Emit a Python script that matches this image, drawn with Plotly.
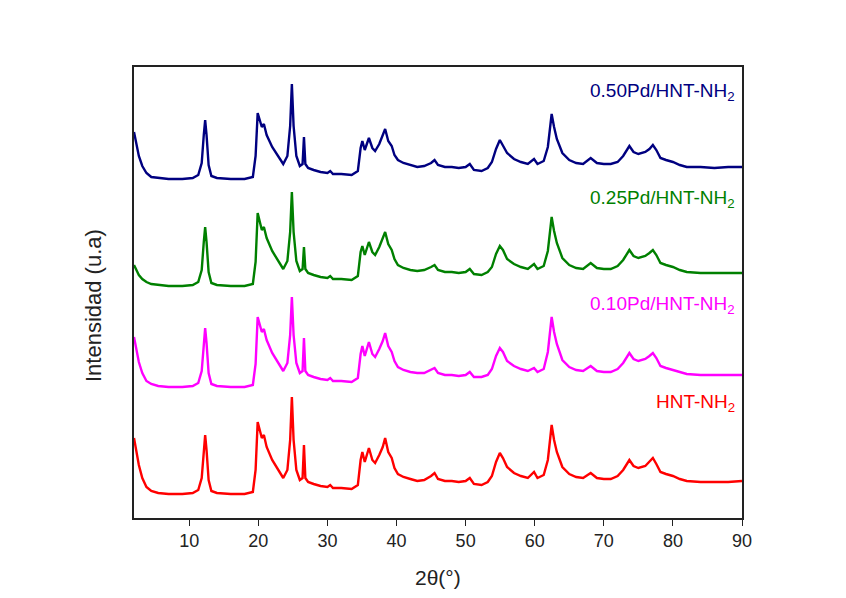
import plotly.graph_objects as go

# 2-theta grid (degrees)
two_theta = [2.0, 2.3, 2.7, 3.2, 3.8, 4.5, 5.5, 7.0, 9.0, 10.5,
             11.3, 11.8, 12.1, 12.3, 12.5, 12.8, 13.2, 14.0, 16.0, 18.0,
             19.2, 19.6, 19.9, 20.2, 20.5, 20.8, 21.2, 22.0, 23.0, 23.6,
             24.2, 24.6, 24.85, 25.1, 25.5, 26.0, 26.4, 26.6, 26.8, 27.2,
             28.0, 29.0, 30.0, 30.4, 30.8, 32.0, 33.5, 34.4, 34.8, 35.05,
             35.4, 36.0, 36.5, 36.9, 37.5, 38.0, 38.35, 38.8, 39.3, 39.7,
             40.2, 41.0, 42.0, 43.0, 44.0, 45.0, 45.5, 46.0, 47.0, 48.0,
             49.0, 50.0, 50.6, 51.2, 52.3, 53.2, 53.8, 54.4, 54.95, 55.4,
             56.0, 57.0, 58.0, 59.0, 59.9, 60.4, 61.3, 61.9, 62.45, 62.8,
             63.2, 64.0, 65.0, 66.0, 67.0, 68.1, 69.0, 70.0, 71.0, 72.0,
             72.8, 73.7, 74.3, 75.0, 76.0, 76.6, 77.1, 77.6, 78.2, 79.0,
             80.0, 81.0, 82.0, 84.0, 86.0, 88.0, 90.0]

hnt_nh2 = [80, 68, 53, 40, 31, 27, 25, 24, 24, 25,
           28, 40, 68, 83, 68, 38, 27, 25, 24, 24,
           26, 48, 96, 88, 80, 83, 71, 58, 46, 40,
           48, 78, 121, 78, 48, 38, 40, 73, 40, 36,
           34, 32, 31, 33, 30, 30, 29, 33, 58, 66,
           56, 70, 58, 55, 63, 71, 80, 66, 60, 50,
           44, 41, 39, 37, 38, 42, 45, 39, 37, 37,
           36, 37, 40, 34, 33, 36, 42, 56, 65, 60,
           51, 45, 42, 40, 46, 40, 43, 58, 93, 78,
           66, 51, 44, 41, 40, 45, 40, 39, 39, 42,
           48, 58, 52, 50, 52, 56, 60, 54, 46, 44,
           42, 39, 37, 36, 36, 36, 37]

pd010 = [181, 170, 156, 145, 137, 134, 132, 131, 131, 132,
         135, 147, 175, 190, 175, 145, 134, 132, 131, 131,
         133, 154, 201, 194, 186, 189, 178, 165, 153, 147,
         155, 183, 221, 183, 155, 145, 147, 180, 147, 143,
         141, 139, 138, 140, 137, 137, 136, 140, 164, 172,
         162, 176, 164, 161, 169, 177, 185, 172, 166, 157,
         151, 148, 146, 145, 145, 148, 150, 145, 143, 143,
         142, 143, 146, 141, 141, 143, 149, 162, 170, 166,
         157, 152, 149, 147, 150, 146, 149, 166, 201, 186,
         174, 158, 151, 148, 147, 152, 147, 146, 146, 149,
         155, 165, 159, 157, 159, 162, 165, 160, 152, 150,
         148, 146, 144, 143, 143, 143, 143]

pd025 = [253, 248, 243, 239, 236, 234, 233, 232, 232, 233,
         236, 248, 276, 291, 276, 246, 235, 233, 232, 232,
         234, 256, 305, 297, 288, 291, 280, 267, 255, 249,
         257, 286, 326, 286, 257, 247, 249, 271, 249, 245,
         243, 241, 240, 242, 239, 239, 238, 242, 266, 272,
         263, 276, 266, 263, 271, 279, 286, 274, 268, 259,
         253, 250, 248, 247, 248, 251, 253, 248, 246, 246,
         245, 246, 249, 244, 243, 246, 251, 264, 272, 268,
         259, 254, 251, 249, 254, 249, 252, 267, 301, 287,
         275, 260, 253, 250, 249, 255, 250, 249, 249, 252,
         258, 268, 262, 260, 262, 265, 268, 263, 255, 253,
         251, 248, 246, 245, 245, 245, 245]

pd050 = [386, 375, 362, 352, 345, 341, 340, 339, 339, 340,
         343, 355, 383, 398, 383, 353, 342, 340, 339, 339,
         341, 362, 405, 398, 391, 394, 383, 371, 360, 354,
         362, 392, 434, 392, 362, 352, 354, 381, 354, 350,
         348, 346, 345, 347, 344, 344, 343, 347, 370, 377,
         368, 380, 370, 367, 374, 382, 389, 377, 372, 363,
         358, 355, 353, 351, 352, 355, 358, 353, 351, 351,
         350, 351, 354, 348, 347, 350, 356, 369, 378, 373,
         365, 359, 356, 354, 359, 354, 357, 371, 404, 391,
         379, 365, 358, 355, 354, 360, 355, 354, 354, 356,
         362, 372, 366, 364, 366, 369, 373, 368, 360, 358,
         356, 353, 351, 351, 350, 351, 351]

series_names = ["HNT-NH<sub>2</sub>", "0.10Pd/HNT-NH<sub>2</sub>",
                "0.25Pd/HNT-NH<sub>2</sub>", "0.50Pd/HNT-NH<sub>2</sub>"]
series_values = [hnt_nh2, pd010, pd025, pd050]
colors = ["#FF0000", "#FF00FF", "#008000", "#000080"]
label_y = [0.255, 0.4723, 0.7073, 0.9446]

FONT = "Arial, 'Liberation Sans', sans-serif"

fig = go.Figure()
for name, vals, col in zip(series_names, series_values, colors):
    fig.add_trace(go.Scatter(x=two_theta, y=vals, mode="lines", name=name,
                             line=dict(color=col, width=2.4), showlegend=False))

for name, col, yy in zip(series_names, colors, label_y):
    fig.add_annotation(text=name, x=0.9918, y=yy, xref="paper", yref="paper",
                       xanchor="right", yanchor="middle", showarrow=False,
                       font=dict(family=FONT, size=19, color=col))

fig.add_annotation(text="Intensidad (u.a)", x=-0.0674, y=0.47, xref="paper", yref="paper",
                   textangle=-90, xanchor="center", yanchor="middle", showarrow=False,
                   font=dict(family=FONT, size=22, color="#222222"))
fig.add_annotation(text="2θ(°)", x=0.5, y=-0.133, xref="paper", yref="paper",
                   xanchor="center", yanchor="middle", showarrow=False,
                   font=dict(family=FONT, size=21, color="#222222"))

fig.update_layout(
    width=846, height=598,
    margin=dict(l=134, r=104, t=67, b=80),
    paper_bgcolor="white", plot_bgcolor="white",
    font=dict(family=FONT, color="#222222"),
    xaxis=dict(range=[2, 90], tickvals=[10, 20, 30, 40, 50, 60, 70, 80, 90],
               ticks="outside", ticklen=6, tickwidth=1.3, tickcolor="#222222",
               showline=True, linecolor="#222222", linewidth=1.5, mirror=True,
               showgrid=False, zeroline=False,
               tickfont=dict(family=FONT, size=18, color="#222222")),
    yaxis=dict(range=[0, 451], showticklabels=False, ticks="",
               showline=True, linecolor="#222222", linewidth=1.5, mirror=True,
               showgrid=False, zeroline=False),
)

fig.write_html("out.html")
